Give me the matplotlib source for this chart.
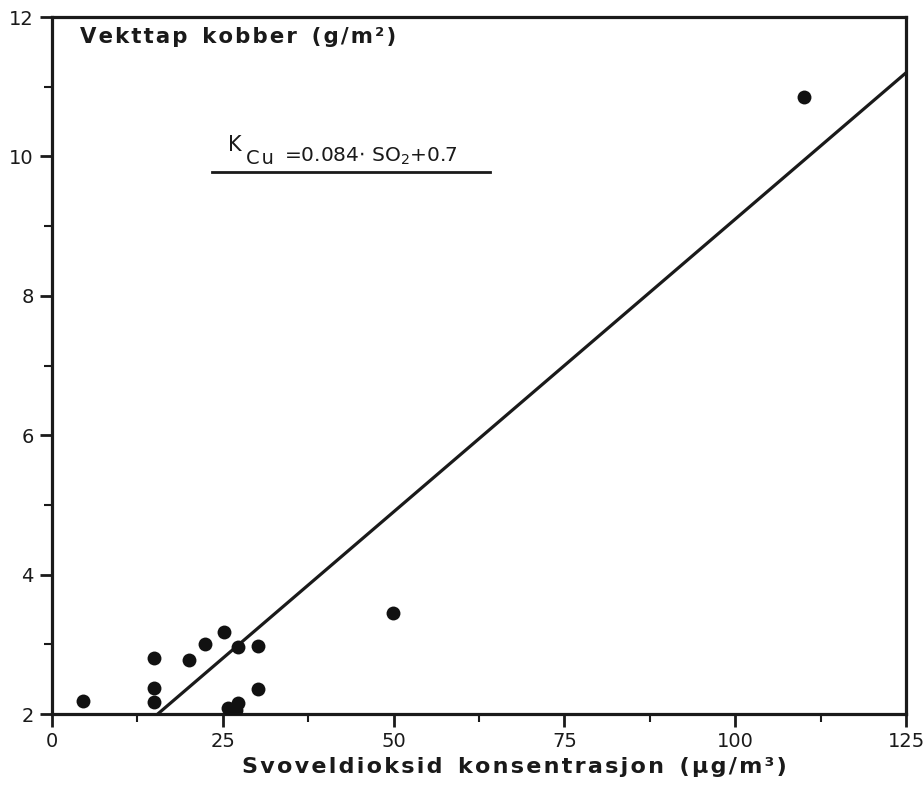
import matplotlib
matplotlib.use("Agg")
import matplotlib.pyplot as plt
import numpy as np
from matplotlib.ticker import MultipleLocator

# SO2 concentration (µg/m3) and copper weight loss (g/m2)
so2 = [4.5, 15.0, 15.0, 14.9, 20.0, 22.4, 25.2, 27.3, 30.1, 30.1, 27.2, 25.7, 26.9, 49.9, 110.1]
kcu = [2.18, 2.37, 2.80, 2.17, 2.77, 3.00, 3.18, 2.96, 2.98, 2.36, 2.16, 2.09, 2.06, 3.45, 10.85]

slope = 0.084
intercept = 0.7

x_ticks = [0, 25, 50, 75, 100, 125]
y_ticks = [2, 4, 6, 8, 10, 12]

W, H = 923, 791
fig = plt.figure(figsize=(W / 100, H / 100), dpi=100)
ax = fig.add_axes([0.0563, 0.0973, 0.9253, 0.8812])

ink = "#1a1a1a"
HAIR = "\u200a"


def tracked(s, sep=HAIR):
    """Spread lettering out a little, stencil style."""
    return sep.join(s)


def fig_xy(px, py):
    """Figure-fraction coordinates for a pixel position (origin top-left)."""
    return px / W, 1 - py / H


ax.scatter(so2, kcu, s=100, color="#111111", zorder=3, linewidths=0)

# Regression line, clipped to the axes
xs = np.linspace(0, 125, 200)
ax.plot(xs, slope * xs + intercept, color=ink, lw=2.3, zorder=2)

ax.set_xlim(0, 125)
ax.set_ylim(2, 12)
ax.set_xticks(x_ticks)
ax.set_yticks(y_ticks)
ax.xaxis.set_minor_locator(MultipleLocator(12.5))
ax.yaxis.set_minor_locator(MultipleLocator(1))

for s in ax.spines.values():
    s.set_linewidth(2.3)
    s.set_color(ink)

ax.tick_params(axis="both", which="major", direction="out", length=9, width=2,
               labelsize=14, colors=ink, pad=4)
ax.tick_params(axis="both", which="minor", direction="out", length=6, width=1.5,
               colors=ink)
ax.tick_params(axis="x", which="both", top=False)
ax.tick_params(axis="y", which="both", right=False)

ax.set_xlabel(tracked("Svoveldioksid") + "  " + tracked("konsentrasjon") + "  "
              + tracked("(µg/m³)"), fontsize=16,
              fontweight="bold", color=ink)
ax.xaxis.set_label_coords(0.542, -0.062)

ax.text(*fig_xy(80, 43), tracked("Vekttap") + "  " + tracked("kobber") + "  "
        + tracked("(g/m²)"), transform=fig.transFigure,
        fontsize=15.3, fontweight="bold", color=ink, va="baseline", ha="left")

# Regression equation with its underline
ax.text(*fig_xy(228, 151), "K", transform=fig.transFigure, fontsize=15,
        color=ink, va="baseline", ha="left")
ax.text(*fig_xy(246, 164), "C" + HAIR + "u", transform=fig.transFigure, fontsize=14,
        color=ink, va="baseline", ha="left")
ax.text(*fig_xy(284, 162), r"=0.084$\cdot$ SO$_2$+0.7", transform=fig.transFigure,
        fontsize=14.5, color=ink, va="baseline", ha="left")
ax.plot([0.187, 0.513], [0.7776, 0.7776], transform=ax.transAxes, color=ink,
        lw=2, clip_on=False)

fig.savefig("out.png", dpi=100, facecolor="white")
